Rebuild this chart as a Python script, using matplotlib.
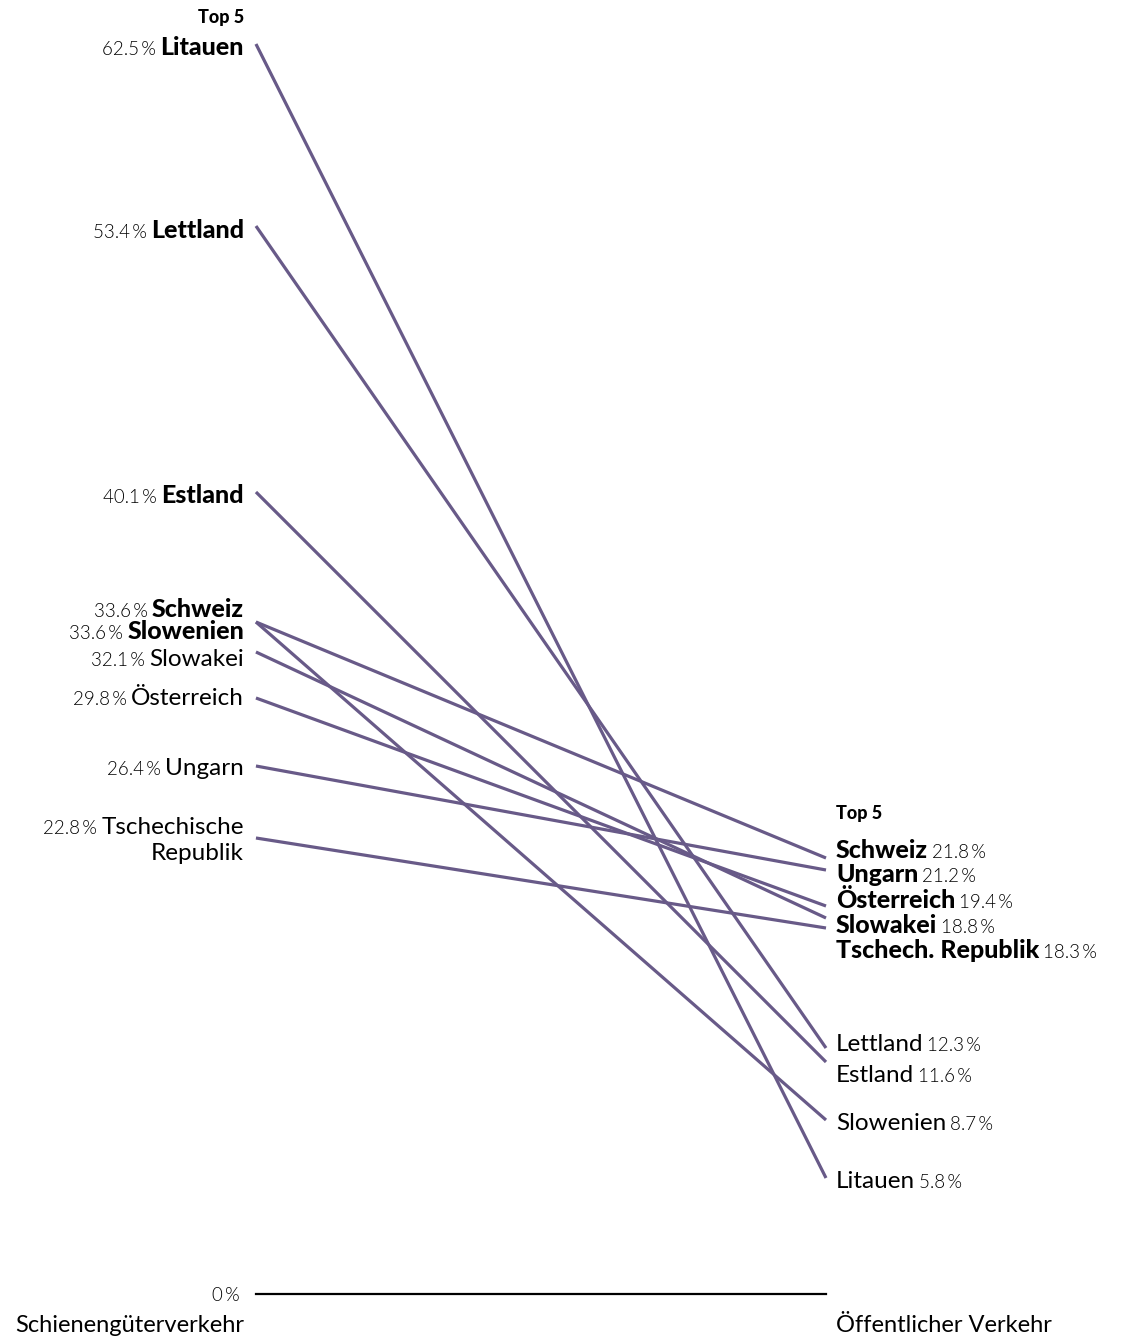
import matplotlib
matplotlib.use("Agg")
import matplotlib.pyplot as plt

# Anteil Schiene am Güterverkehr vs. Anteil öffentlicher Verkehr (in %)
countries = ["Litauen", "Lettland", "Estland", "Schweiz", "Slowenien",
             "Slowakei", "Österreich", "Ungarn", "Tschechische Republik"]
rail_freight = [62.5, 53.4, 40.1, 33.6, 33.6, 32.1, 29.8, 26.4, 22.8]
public_transport = [5.8, 12.3, 11.6, 21.8, 8.7, 18.8, 19.4, 21.2, 18.3]

left_names = ["Litauen", "Lettland", "Estland", "Schweiz", "Slowenien",
              "Slowakei", "Österreich", "Ungarn", ["Tschechische", "Republik"]]
left_bold = [True, True, True, True, True, False, False, False, False]
right_names = ["Litauen", "Lettland", "Estland", "Schweiz", "Slowenien",
               "Slowakei", "Österreich", "Ungarn", "Tschech. Republik"]
right_bold = [False, False, False, True, False, True, True, True, True]

# label baselines (same units as y axis), to keep labels from overlapping
left_label_y = [61.95, 52.8, 39.55, 33.85, 32.75, 31.4, 29.45, 25.95, [23.0, 21.7]]
right_label_y = [5.3, 12.15, 10.6, 21.8, 8.2, 18.05, 19.3, 20.6, 16.8]

line_color = "#685a88"
FONT = "Lato"
NAME_SIZE = 17.5
BOLD_SIZE = 18
NUM_SIZE = 13.5

fig = plt.figure(figsize=(11.23, 13.38), dpi=100)
ax = fig.add_axes([0, 0, 1, 1])
ax.set_xlim(-0.449, 1.521)
ax.set_ylim(-2.2, 64.7)
ax.axis("off")

renderer = fig.canvas.get_renderer()


def fmt(v):
    return f"{v:.1f}\u2009%"


def name_style(bold):
    if bold:
        return dict(fontsize=BOLD_SIZE, family=FONT, weight=900)
    return dict(fontsize=NAME_SIZE, family=FONT, weight=400)


def label_left(name, val, y, bold):
    t = ax.text(-0.021, y, name, ha="right", va="baseline", **name_style(bold))
    if val is not None:
        w = t.get_window_extent(renderer).width
        ax.annotate(fmt(val), xy=(-0.021, y), xytext=(-w - 4, 0),
                    textcoords="offset pixels", ha="right", va="baseline",
                    fontsize=NUM_SIZE, family=FONT, weight=300)


def label_right(name, val, y, bold):
    t = ax.text(1.0175, y, name, ha="left", va="baseline", **name_style(bold))
    w = t.get_window_extent(renderer).width
    ax.annotate(fmt(val), xy=(1.0175, y), xytext=(w + 4, 0),
                textcoords="offset pixels", ha="left", va="baseline",
                fontsize=NUM_SIZE, family=FONT, weight=300)


for i in range(len(countries)):
    ax.plot([0, 1], [rail_freight[i], public_transport[i]], color=line_color,
            lw=2.3, solid_capstyle="butt")
    if isinstance(left_names[i], list):
        label_left(left_names[i][0], rail_freight[i], left_label_y[i][0], left_bold[i])
        label_left(left_names[i][1], None, left_label_y[i][1], left_bold[i])
    else:
        label_left(left_names[i], rail_freight[i], left_label_y[i], left_bold[i])
    label_right(right_names[i], public_transport[i], right_label_y[i], right_bold[i])

ax.text(-0.021, 63.55, "Top 5", ha="right", va="baseline", fontsize=13,
        family=FONT, weight=900)
ax.text(1.0175, 23.75, "Top 5", ha="left", va="baseline", fontsize=13,
        family=FONT, weight=900)

# baseline
ax.plot([0, 1], [0, 0], color="black", lw=1.6)
ax.text(-0.028, -0.35, "0\u2009%", ha="right", va="baseline", fontsize=NUM_SIZE,
        family=FONT, weight=300)
ax.text(-0.021, -1.9, "Schienengüterverkehr", ha="right", va="baseline",
        fontsize=17, family=FONT)
ax.text(1.0175, -1.9, "Öffentlicher Verkehr", ha="left", va="baseline",
        fontsize=17, family=FONT)

fig.savefig("out.png", dpi=100)
